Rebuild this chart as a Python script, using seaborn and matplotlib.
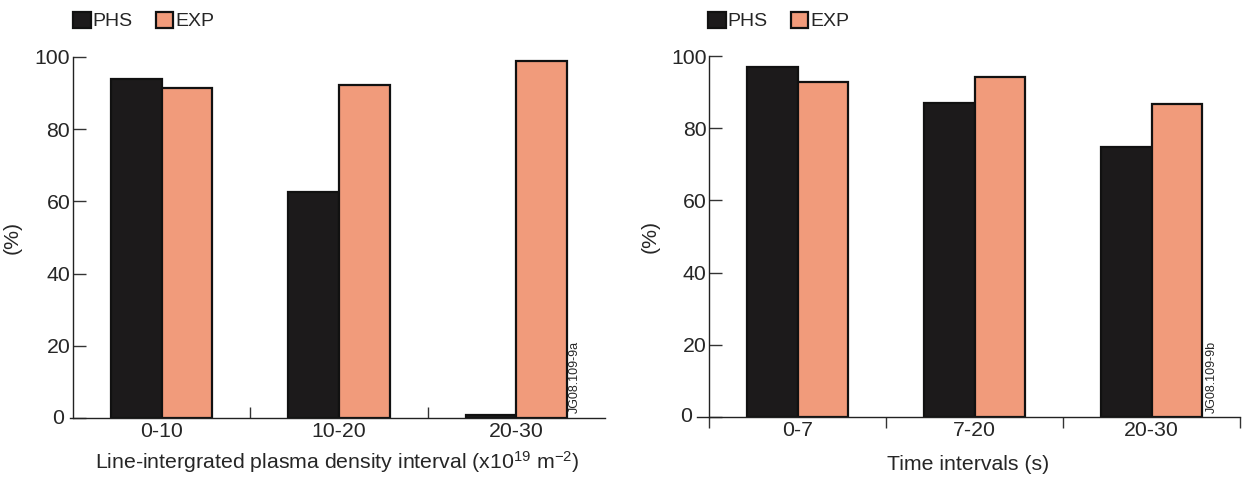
import matplotlib
matplotlib.use("Agg")
import matplotlib.pyplot as plt
import matplotlib.patches as mpatches
import seaborn as sns
import pandas as pd

# ---- data ----
series = ["PHS", "EXP"]
dens_cats = ["0-10", "10-20", "20-30"]
dens_phs = [94.0, 62.5, 0.8]
dens_exp = [91.5, 92.2, 98.9]
time_cats = ["0-7", "7-20", "20-30"]
time_phs = [97.0, 87.0, 74.8]
time_exp = [92.8, 94.3, 86.7]
yticks = [0, 20, 40, 60, 80, 100]
colors = {"PHS": "#1c1a1b", "EXP": "#f19b7b"}

sns.set_theme(style="white")
plt.rcParams["font.family"] = ["Liberation Sans", "DejaVu Sans"]
plt.rcParams["mathtext.fontset"] = "custom"
plt.rcParams["mathtext.rm"] = "Liberation Sans"
plt.rcParams["mathtext.it"] = "Liberation Sans"

def make_df(cats, phs, exp):
    return pd.DataFrame({
        "cat": cats * 2,
        "series": ["PHS"] * len(cats) + ["EXP"] * len(cats),
        "val": list(phs) + list(exp),
    })

fig = plt.figure(figsize=(12.42, 4.78), dpi=100)
W, H = 1242, 478
axL = fig.add_axes([70 / W, 60 / H, 535 / W, 361 / H])
axR = fig.add_axes([697 / W, 61 / H, 543 / W, 361 / H])

FS = 15.3

for ax, df, cats in [(axL, make_df(dens_cats, dens_phs, dens_exp), dens_cats),
                     (axR, make_df(time_cats, time_phs, time_exp), time_cats)]:
    sns.barplot(data=df, x="cat", y="val", hue="series", order=cats,
                hue_order=series, palette=colors, edgecolor="#111111",
                linewidth=1.6, width=0.57, gap=0, dodge=True, ax=ax,
                legend=False, errorbar=None, saturation=1)
    ax.set_ylim(0, 100)
    ax.set_yticks(yticks)
    ax.set_yticklabels([""] + [str(v) for v in yticks[1:]])
    ax.tick_params(axis="y", direction="in", length=9, width=1, color="#333333",
                   labelsize=FS, pad=2, left=True)
    ax.tick_params(axis="x", which="major", length=0, labelsize=FS, pad=3)
    ax.set_ylabel("(%)", fontsize=FS)
    for s in ["top", "right"]:
        ax.spines[s].set_visible(False)
    for s in ["left", "bottom"]:
        ax.spines[s].set_color("#222222")
        ax.spines[s].set_linewidth(1.0)

# left panel
axL.set_xlim(-0.517, 2.5)
axL.spines["left"].set_position(("data", -0.5))
axL.set_xticks([0.5, 1.5], minor=True)
axL.tick_params(axis="x", which="minor", direction="in", length=8, width=1,
                color="#333333", bottom=True)
axL.set_xlabel(r"Line-intergrated plasma density interval (x10$^{19}$ m$^{-2}$)",
               fontsize=FS, labelpad=6)
axL.yaxis.set_label_coords(-0.09, 0.5)
axL.text(-0.55, 0, "0", fontsize=FS, ha="right", va="center", transform=axL.transData)
axL.text(0.943, 0.014, "JG08.109-9a", transform=axL.transAxes, rotation=90,
         ha="center", va="bottom", fontsize=9)

# right panel
axR.set_xlim(-0.57, 2.5)
axR.spines["left"].set_position(("data", -0.5))
axR.set_xticks([-0.5, 0.5, 1.5, 2.5], minor=True)
axR.tick_params(axis="x", which="minor", direction="out", length=8, width=1,
                color="#333333", bottom=True)
axR.set_xlabel("Time intervals (s)", fontsize=FS, labelpad=11)
axR.yaxis.set_label_coords(-0.068, 0.5)
axR.text(-0.6, 0, "0", fontsize=FS, ha="right", va="center", transform=axR.transData)
axR.text(0.949, 0.011, "JG08.109-9b", transform=axR.transAxes, rotation=90,
         ha="center", va="bottom", fontsize=9)

# legends
handles = [mpatches.Patch(facecolor=colors[s], edgecolor="#111111", linewidth=1.6, label=s)
           for s in series]
for x0 in [73 / W, 708 / W]:
    fig.legend(handles=handles, loc="center left", bbox_to_anchor=(x0, 1 - 21 / H),
               ncol=2, frameon=False, fontsize=14, handlelength=0.9, handleheight=0.9,
               handletextpad=0.1, columnspacing=1.2, borderpad=0, borderaxespad=0)

fig.savefig("out.png", dpi=100)
